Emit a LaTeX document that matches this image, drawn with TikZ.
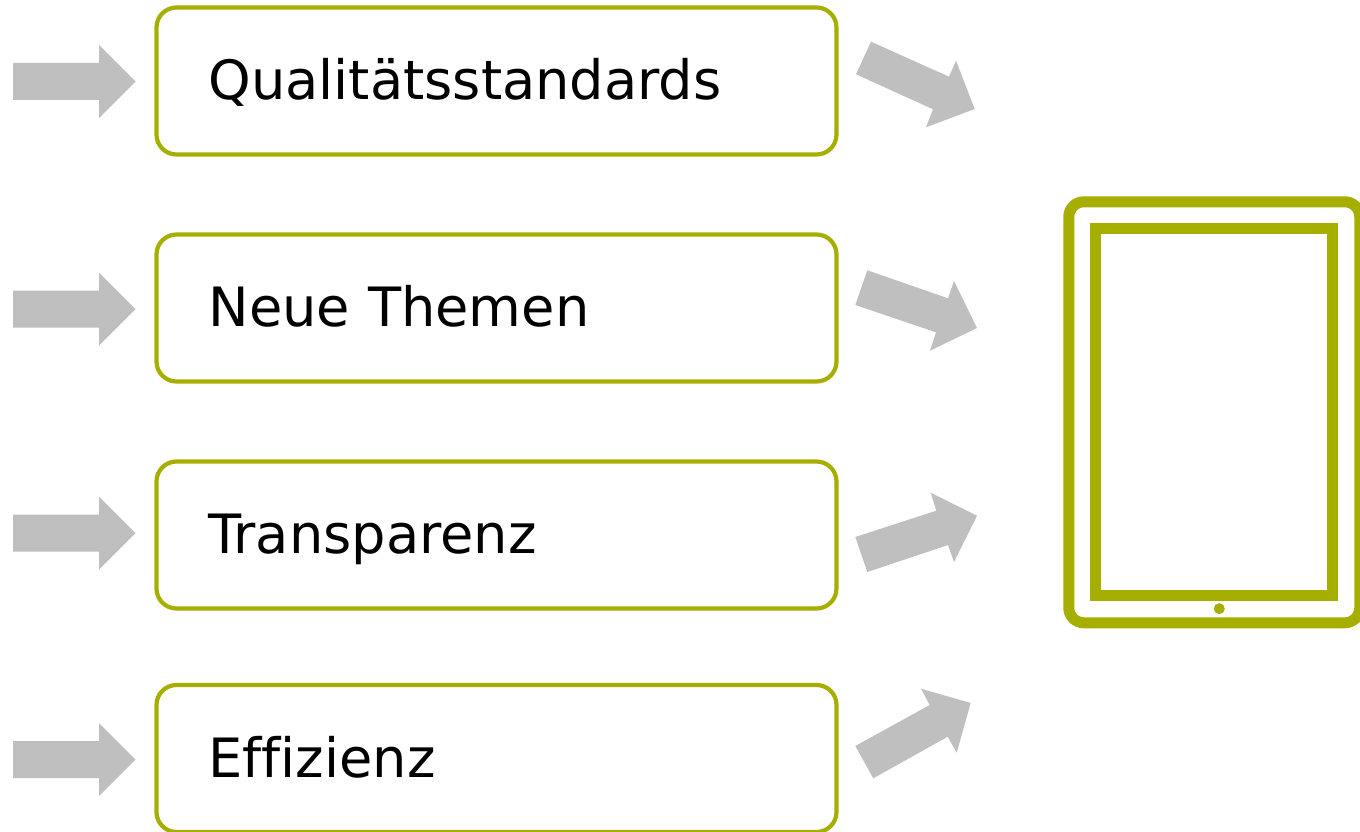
\documentclass[tikz,border=0pt]{standalone}
\usepackage{fontspec}
\setmainfont[RawFeature={-liga}]{DejaVu Sans}
\definecolor{olive}{HTML}{A6AE00}
\definecolor{arrowgrey}{HTML}{BFBFBF}
\tikzset{
  x=1pt,y=-1pt,
  textbox/.style={draw=olive,line width=4.2pt,rounded corners=20pt,fill=white,minimum width=680pt,minimum height=147pt,
    text width=576pt,inner sep=0pt,align=left,text height=45pt,text depth=8pt,font=\fontsize{54.2}{60}\selectfont},
  blockarrow/.style={fill=arrowgrey,draw=none},
  tabletframe/.style={draw=olive,line width=11pt}
}
\newcommand{\feedarrow}[1]{\fill[blockarrow] (13,#1-18.5) -- (99,#1-18.5) -- (99,#1-36.5) -- (135.5,#1) -- (99,#1+36.5) -- (99,#1+18.5) -- (13,#1+18.5) -- cycle;}
\begin{document}
\begin{tikzpicture}
\useasboundingbox (0,0) rectangle (1360,832);
\clip (0,0) rectangle (1360,832);
\fill[white] (0,0) rectangle (1360,832);
\feedarrow{81.5}
\feedarrow{309}
\feedarrow{533}
\feedarrow{759.5}
\node[textbox] (q) at (496.5,81) {Qualitätsstandards};
\node[textbox] (n) at (496.5,308) {Neue Themen};
\node[textbox] (t) at (496.5,535) {Transparenz};
\node[textbox] (e) at (496.5,758.5) {Effizienz};
\fill[blockarrow] (871,41.7) -- (949,76.7) -- (956,60.7) -- (974.7,109) -- (926,127.3) -- (933,109.3) -- (856,74.3) -- cycle;
\fill[blockarrow] (867.3,270.3) -- (948,298.3) -- (954,281) -- (977,328) -- (930,350.7) -- (936,332.3) -- (855.3,305) -- cycle;
\fill[blockarrow] (930.7,492.7) -- (977,515.7) -- (954,562) -- (948,545) -- (867.3,572) -- (855.3,537) -- (936.3,510.7) -- cycle;
\fill[blockarrow] (921,688.7) -- (970.7,703) -- (956.7,752.7) -- (947.7,736.7) -- (873.3,778.3) -- (855.3,746) -- (929.7,705) -- cycle;
\draw[tabletframe,rounded corners=15pt] (1068.8,201.8) rectangle (1359.8,622.8);
\draw[tabletframe] (1095.5,228.8) rectangle (1332.6,595.8);
\fill[olive] (1219.3,608.7) circle (5.5);
\end{tikzpicture}
\end{document}
